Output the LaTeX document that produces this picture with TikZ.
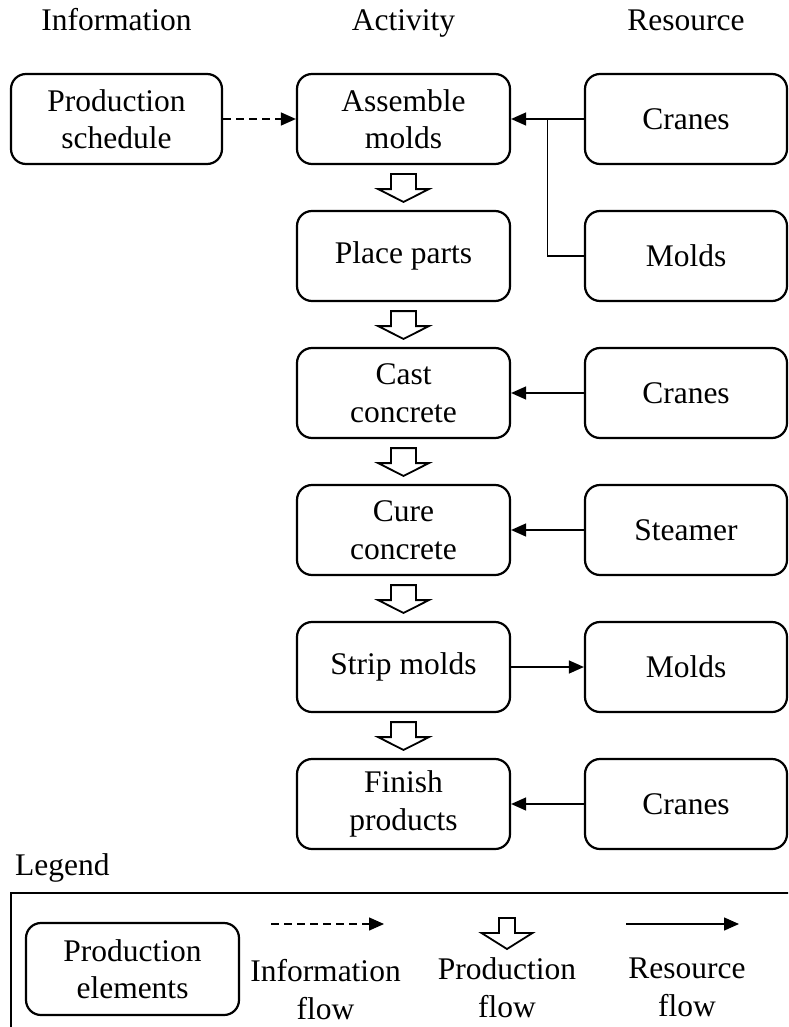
\documentclass[tikz,border=0pt]{standalone}
\usepackage{fontspec}
\setmainfont{Liberation Serif}
\usetikzlibrary{arrows.meta,calc}
\begin{document}
\begin{tikzpicture}[x=1pt,y=-1pt,
  every node/.style={font=\fontsize{31.5}{37.5}\selectfont, inner sep=0pt, align=center},
  elem/.style={draw, line width=2.2pt, rounded corners=15pt, minimum height=90pt},
  actbox/.style={elem, minimum width=213pt},
  resbox/.style={elem, minimum width=202pt},
  resflow/.style={line width=1.4pt, -{Triangle[length=15pt,width=13pt]}},
  infoflow/.style={resflow, dash pattern=on 8pt off 5pt},
  plainline/.style={line width=1.4pt},
  prodarrow/.style={draw, line width=1.8pt, fill=white, line join=miter},
  frame/.style={draw, line width=2.2pt}
]
\clip (0,0) rectangle (788,1027);
\useasboundingbox (0,0) rectangle (788,1027);

% headers
\node[anchor=base] (hinf) at (116.5,31) {Information};
\node[anchor=base] (hact) at (403.5,31) {Activity};
\node[anchor=base] (hres) at (686,31) {Resource};

% boxes
\node[elem, minimum width=211pt] (ps) at (116.5,119) {Production\\schedule};
\node[actbox] (a1) at (403.5,119) {Assemble\\molds};
\node[actbox] (a2) at (403.5,256) {Place parts};
\node[actbox] (a3) at (403.5,393) {Cast\\concrete};
\node[actbox] (a4) at (403.5,530) {Cure\\concrete};
\node[actbox] (a5) at (403.5,667) {Strip molds};
\node[actbox] (a6) at (403.5,804) {Finish\\products};
\node[resbox] (r1) at (686,119) {Cranes};
\node[resbox] (r2) at (686,256) {Molds};
\node[resbox] (r3) at (686,393) {Cranes};
\node[resbox] (r4) at (686,530) {Steamer};
\node[resbox] (r5) at (686,667) {Molds};
\node[resbox] (r6) at (686,804) {Cranes};

% connectors
\draw[infoflow] (ps) -- (a1);
\draw[resflow] (r1) -- (a1);
\coordinate (br) at ($(a1.east)!0.5!(r1.west)$);
\draw[plainline] (r2.west) -| (br);
\draw[resflow] (r3) -- (a3);
\draw[resflow] (r4) -- (a4);
\draw[resflow] (a5) -- (r5);
\draw[resflow] (r6) -- (a6);

% production flow arrows
\foreach \u/\v in {a1/a2,a2/a3,a3/a4,a4/a5,a5/a6} {
  \draw[prodarrow] ($(\u.south)+(-12.5,9)$) -- ++(25,0) -- ++(0,15) -- ++(13,0)
     -- ($(\v.north)+(0,-8)$) -- ($(\u.south)+(-25.5,24)$) -- ++(13,0) -- cycle;
}

% legend
\node[anchor=base west] (leg) at (15,875) {Legend};
\draw[frame] (11,893) rectangle (800,1045);
\node[elem, minimum width=213pt, minimum height=92pt] (le) at (132.5,969) {Production\\elements};

\coordinate (i1) at (271,924);
\coordinate (i2) at (384,924);
\draw[infoflow] (i1) -- (i2);
\node[anchor=north] (lti) at (325.5,959.5) {Information\\flow};

\coordinate (lp) at (507,918);
\draw[prodarrow] ($(lp)+(-8,0)$) -- ++(16,0) -- ++(0,15) -- ++(17.5,0)
   -- ($(lp)+(0,31)$) -- ($(lp)+(-25.5,15)$) -- ++(17.5,0) -- cycle;
\node[anchor=north] (ltp) at (507,957.5) {Production\\flow};

\coordinate (q1) at (626,924);
\coordinate (q2) at (739,924);
\draw[resflow] (q1) -- (q2);
\node[anchor=north] (ltr) at (687,958) {Resource\\flow};
\end{tikzpicture}
\end{document}
